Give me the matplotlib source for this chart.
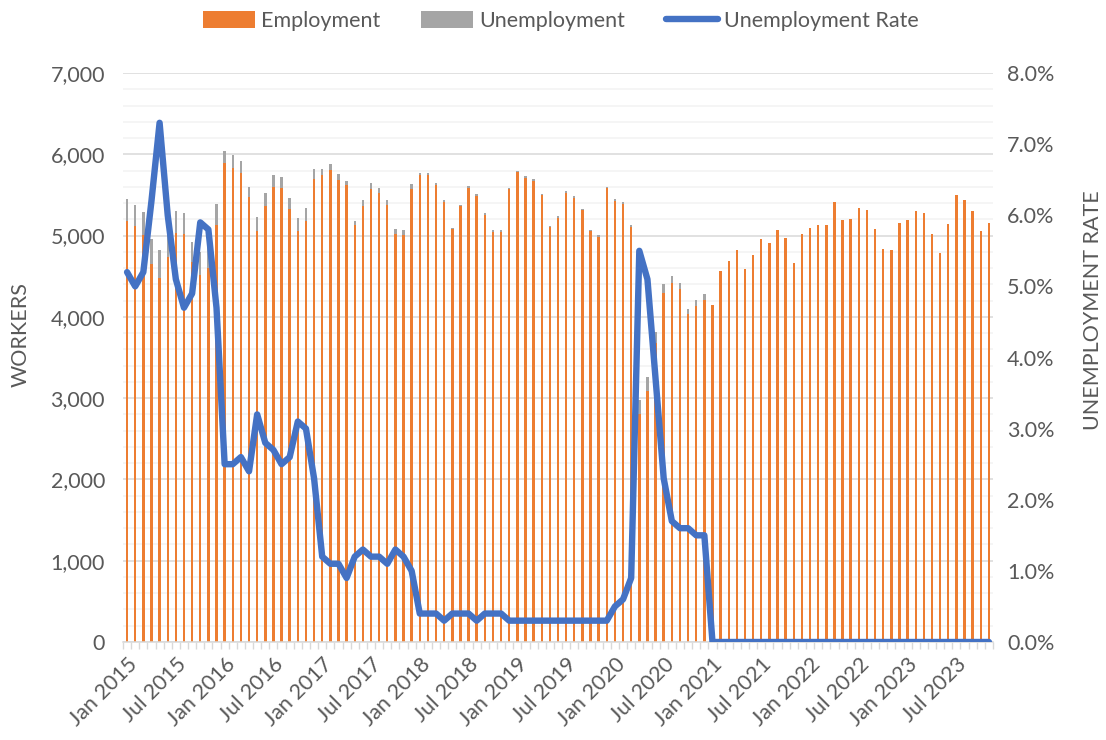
import matplotlib
matplotlib.use("Agg")
import matplotlib.pyplot as plt
from matplotlib.ticker import FuncFormatter, MultipleLocator, FixedLocator
import numpy as np

plt.rcParams['font.family'] = ['Lato', 'DejaVu Sans']

# monthly data, Jan 2015 - Nov 2023
months = ["Jan", "Feb", "Mar", "Apr", "May", "Jun", "Jul", "Aug", "Sep", "Oct", "Nov", "Dec"]
labels = [f"{m} {y}" for y in range(2015, 2024) for m in months][:107]

employment = [5180, 5114, 5011, 4645, 4472, 4735, 5032, 5024, 4679, 4509, 4600, 5135,
              5889, 5835, 5769, 5477, 5052, 5361, 5596, 5580, 5328, 5052, 5184, 5699,
              5749, 5802, 5685, 5621, 5127, 5366, 5576, 5518, 5378, 5015, 5003, 5572,
              5745, 5740, 5621, 5415, 5081, 5361, 5584, 5485, 5258, 5048, 5048, 5576,
              5782, 5708, 5675, 5497, 5110, 5221, 5526, 5464, 5312, 5057, 4986, 5580,
              5427, 5390, 5102, 2809, 3090, 3674, 4298, 4422, 4344, 4035, 4138, 4212,
              4150, 4566, 4686, 4826, 4587, 4764, 4958, 4908, 5073, 4974, 4665, 5024,
              5098, 5135, 5127, 5419, 5188, 5209, 5345, 5316, 5085, 4838, 4826, 5160,
              5188, 5300, 5279, 5015, 4785, 5147, 5497, 5440, 5308, 5061, 5160]

unemployment = [272, 268, 284, 313, 354, 295, 276, 255, 241, 283, 284, 251,
                148, 153, 149, 123, 178, 165, 153, 144, 136, 165, 157, 124,
                66, 74, 68, 45, 57, 70, 74, 70, 58, 66, 66, 57,
                24, 25, 21, 21, 17, 17, 20, 21, 21, 21, 21, 12,
                16, 20, 16, 13, 12, 17, 17, 17, 16, 16, 17, 20,
                29, 29, 33, 163, 174, 142, 103, 82, 70, 66, 66, 70] + [0] * 35

unemployment_rate = [5.2, 5.0, 5.2, 6.2, 7.3, 6.0, 5.1, 4.7, 4.9, 5.9, 5.8, 4.7,
                     2.5, 2.5, 2.6, 2.4, 3.2, 2.8, 2.7, 2.5, 2.6, 3.1, 3.0, 2.3,
                     1.2, 1.1, 1.1, 0.9, 1.2, 1.3, 1.2, 1.2, 1.1, 1.3, 1.2, 1.0,
                     0.4, 0.4, 0.4, 0.3, 0.4, 0.4, 0.4, 0.3, 0.4, 0.4, 0.4, 0.3,
                     0.3, 0.3, 0.3, 0.3, 0.3, 0.3, 0.3, 0.3, 0.3, 0.3, 0.3, 0.3,
                     0.5, 0.6, 0.9, 5.5, 5.1, 3.7, 2.3, 1.7, 1.6, 1.6, 1.5, 1.5] + [0.0] * 35

x = np.arange(len(labels))
txt = "#595959"

fig = plt.figure(figsize=(11.06, 7.40), dpi=100)
ax = fig.add_axes([123 / 1106, 1 - 642 / 740, 870 / 1106, 569 / 740])

ax.bar(x, employment, width=0.3, color="#ED7D31", label="Employment", zorder=2)
ax.bar(x, unemployment, width=0.3, bottom=employment, color="#A5A5A5",
       label="Unemployment", zorder=2)

ax.set_xlim(-0.5, len(x) - 0.5)
ax.set_ylim(0, 7000)
ax.yaxis.set_major_locator(MultipleLocator(1000))
ax.yaxis.set_minor_locator(MultipleLocator(200))
ax.yaxis.set_major_formatter(FuncFormatter(lambda v, p: f"{int(v):,}"))
ax.grid(axis="y", which="major", color="#D9D9D9", lw=1.1, zorder=0)
ax.grid(axis="y", which="minor", color="#F2F2F2", lw=1.1, zorder=0)
ax.set_axisbelow(True)
ax.tick_params(axis="y", which="both", length=0, labelsize=15.5, labelcolor=txt, pad=13)
ax.set_ylabel("WORKERS", fontsize=15.5, color=txt)
ax.yaxis.set_label_coords(-0.106, 0.54)

# x ticks: labels every 6 months, tick marks between categories
ax.xaxis.set_major_locator(FixedLocator(x[::6]))
ax.set_xticklabels(labels[::6], rotation=45, ha="right", rotation_mode="anchor",
                   fontsize=15.5, color=txt)
ax.xaxis.set_minor_locator(FixedLocator(np.arange(-0.5, len(x), 1)))
ax.tick_params(axis="x", which="major", length=0, pad=9)
ax.tick_params(axis="x", which="minor", length=5, color="#D9D9D9", width=1)
for s in ["top", "left", "right"]:
    ax.spines[s].set_visible(False)
ax.spines["bottom"].set_color("#D9D9D9")
ax.spines["bottom"].set_linewidth(1.1)

ax2 = ax.twinx()
ax2.plot(x, unemployment_rate, color="#4472C4", lw=4.6, solid_capstyle="round",
         solid_joinstyle="round", label="Unemployment Rate", zorder=3)
ax2.set_ylim(0, 8)
ax2.yaxis.set_major_locator(MultipleLocator(1))
ax2.yaxis.set_major_formatter(FuncFormatter(lambda v, p: f"{v:.1f}%"))
ax2.tick_params(axis="y", length=0, labelsize=15.5, labelcolor=txt, pad=10)
ax2.set_ylabel("UNEMPLOYMENT RATE", fontsize=15.5, color=txt)
ax2.yaxis.set_label_coords(1.104, 0.583)
for s in ax2.spines.values():
    s.set_visible(False)

h1, l1 = ax.get_legend_handles_labels()
h2, l2 = ax2.get_legend_handles_labels()
fig.legend(h1 + h2, l1 + l2, loc="center", bbox_to_anchor=(561 / 1106, 1 - 21 / 740),
           ncol=3, frameon=False, fontsize=15.5, labelcolor=txt,
           handlelength=2.4, handleheight=0.8, handletextpad=0.3, columnspacing=1.9)

fig.savefig("out.png", dpi=100)
